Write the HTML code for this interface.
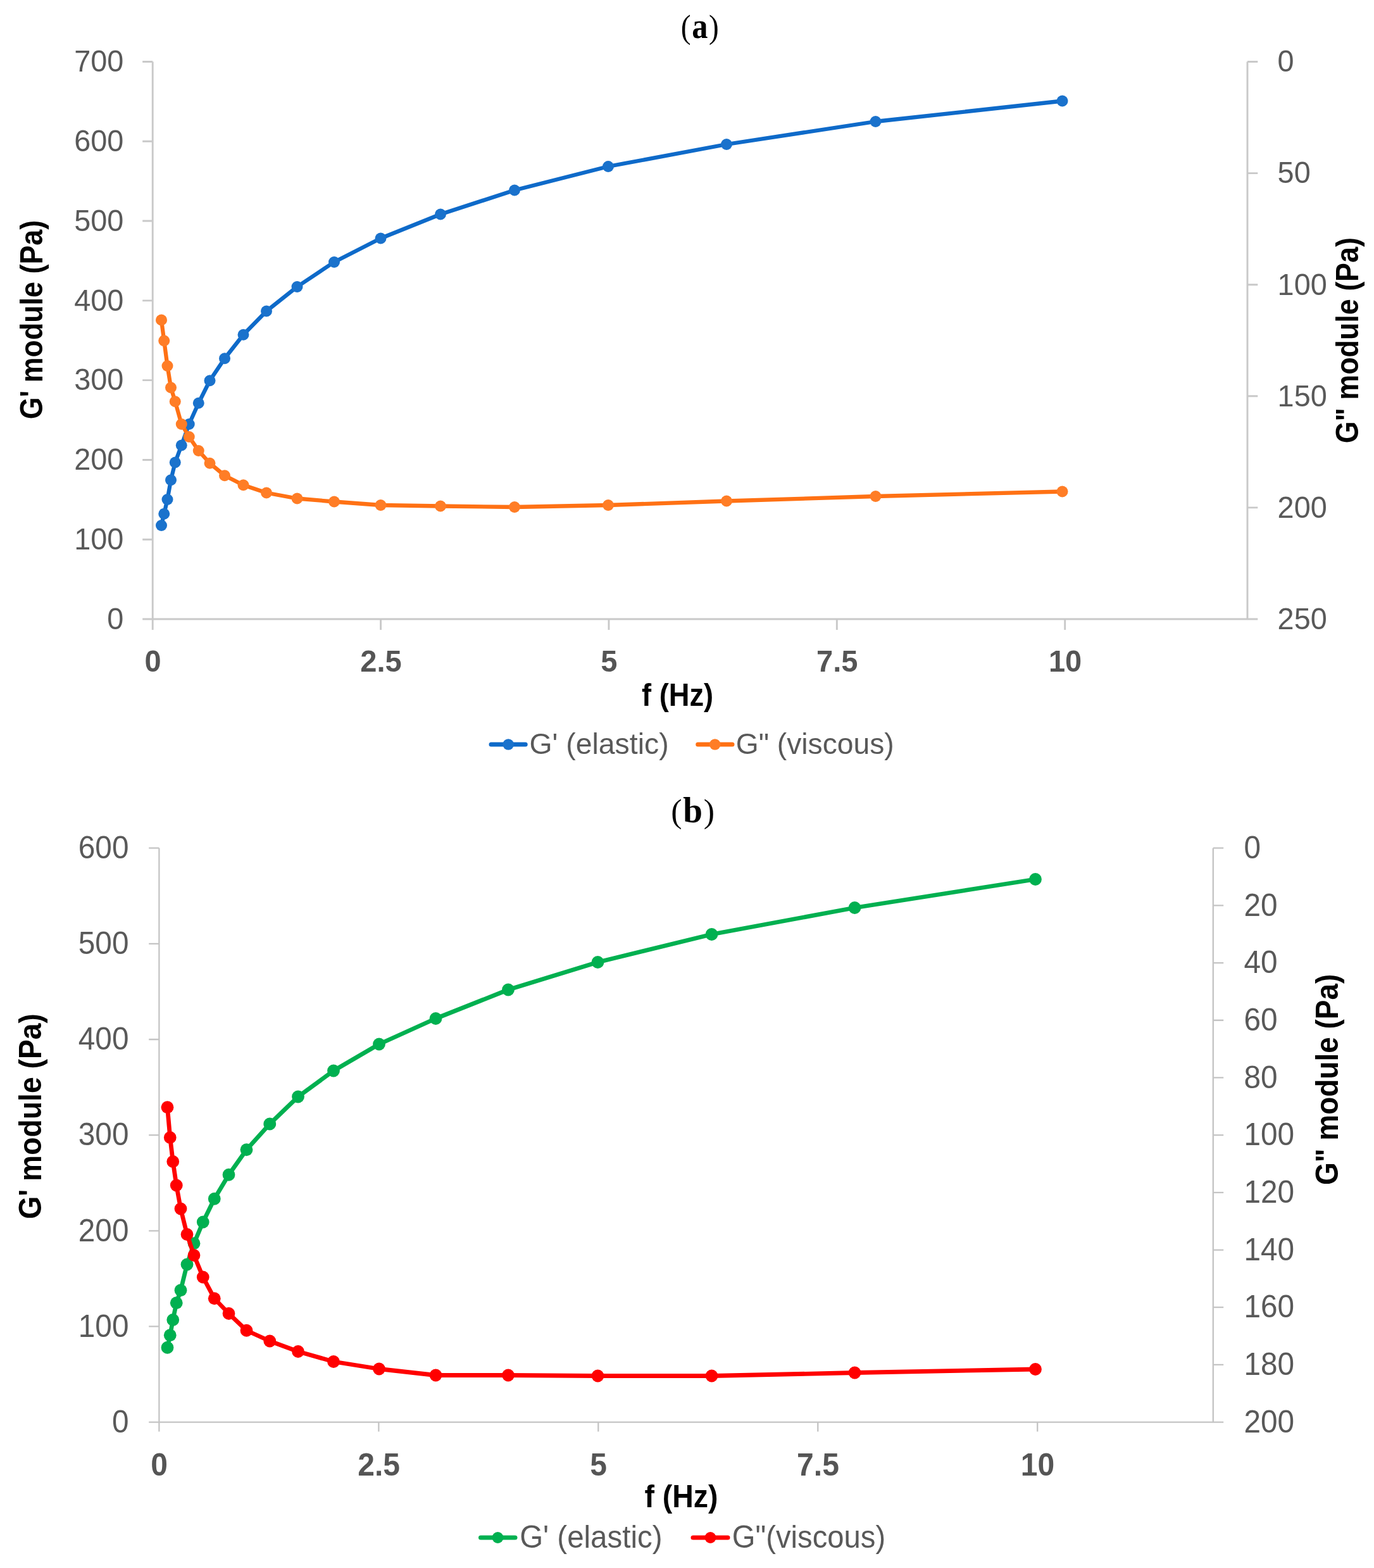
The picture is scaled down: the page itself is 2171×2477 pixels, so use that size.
<!DOCTYPE html>
<html lang="en">
<head>
<meta charset="utf-8">
<title>G' and G'' modules vs frequency</title>
<style>
html,body{margin:0;padding:0;background:#fff;}
body{width:2171px;height:2477px;overflow:hidden;}
svg{display:block;font-family:"Liberation Sans",sans-serif;}
</style>
</head>
<body>
<svg width="2171" height="2477" viewBox="0 0 2171 2477">
<rect width="2171" height="2477" fill="#fff"/>
<g id="chart-a">
<path d="M241.2 97.5V978M1971 97.5V978M225.2 978H1987.3M225.2 97.5H241.2M225.2 223.29H241.2M225.2 349.07H241.2M225.2 474.86H241.2M225.2 600.64H241.2M225.2 726.43H241.2M225.2 852.21H241.2M225.2 978H241.2M1971 97.5H1987.3M1971 273.6H1987.3M1971 449.7H1987.3M1971 625.8H1987.3M1971 801.9H1987.3M1971 978H1987.3M241.2 978V995M601.58 978V995M961.95 978V995M1322.33 978V995M1682.7 978V995" fill="none" stroke="#C9C9C9" stroke-width="2.9"/>
<g fill="#595959">
<text transform="translate(195.3 113.3) scale(0.98 1)" font-size="47.8" text-anchor="end">700</text>
<text transform="translate(195.3 239.09) scale(0.98 1)" font-size="47.8" text-anchor="end">600</text>
<text transform="translate(195.3 364.87) scale(0.98 1)" font-size="47.8" text-anchor="end">500</text>
<text transform="translate(195.3 490.66) scale(0.98 1)" font-size="47.8" text-anchor="end">400</text>
<text transform="translate(195.3 616.44) scale(0.98 1)" font-size="47.8" text-anchor="end">300</text>
<text transform="translate(195.3 742.23) scale(0.98 1)" font-size="47.8" text-anchor="end">200</text>
<text transform="translate(195.3 868.01) scale(0.98 1)" font-size="47.8" text-anchor="end">100</text>
<text transform="translate(195.3 993.8) scale(0.98 1)" font-size="47.8" text-anchor="end">0</text>
<text transform="translate(2018.6 113.3) scale(0.98 1)" font-size="47.8">0</text>
<text transform="translate(2018.6 289.4) scale(0.98 1)" font-size="47.8">50</text>
<text transform="translate(2018.6 465.5) scale(0.98 1)" font-size="47.8">100</text>
<text transform="translate(2018.6 641.6) scale(0.98 1)" font-size="47.8">150</text>
<text transform="translate(2018.6 817.7) scale(0.98 1)" font-size="47.8">200</text>
<text transform="translate(2018.6 993.8) scale(0.98 1)" font-size="47.8">250</text>
</g>
<g fill="#555555" font-weight="bold">
<text transform="translate(241.6 1061) scale(0.96 1)" font-size="49" text-anchor="middle">0</text>
<text transform="translate(601.98 1061) scale(0.96 1)" font-size="49" text-anchor="middle">2.5</text>
<text transform="translate(962.35 1061) scale(0.96 1)" font-size="49" text-anchor="middle">5</text>
<text transform="translate(1322.73 1061) scale(0.96 1)" font-size="49" text-anchor="middle">7.5</text>
<text transform="translate(1683.1 1061) scale(0.96 1)" font-size="49" text-anchor="middle">10</text>
</g>
<g font-weight="bold" fill="#000">
<text transform="translate(1070.6 1115) scale(0.905 1)" font-size="50" text-anchor="middle">f (Hz)</text>
<text transform="translate(67.1 505.1) rotate(-90) scale(0.913 1)" font-size="49.1" text-anchor="middle">G' module (Pa)</text>
<text transform="translate(2146 537.7) rotate(-90) scale(0.906 1)" font-size="49.5" text-anchor="middle">G&quot; module (Pa)</text>
</g>
<text transform="translate(1105.75 60) scale(0.9 1)" font-size="56" text-anchor="middle" fill="#000" font-family="'Liberation Serif', serif"><tspan font-size="52.64">(</tspan><tspan font-weight="bold" dx="1.8">a</tspan><tspan font-size="52.64" dx="1.8">)</tspan></text>
<polyline points="255,830 259.25,811.75 264.5,789 270,758.25 276.75,730.5 286.75,703.5 298.75,670 313.75,636.75 331.5,601.25 355,566.25 384.5,528.75 421,491.5 469.5,453 528,414 601.5,376.5 696,338.5 813,300.5 961,263 1148,228 1383.5,192 1678.5,159.5" fill="none" stroke="#0E6AC9" stroke-width="6.3" stroke-linejoin="round" stroke-linecap="round"/>
<g fill="#1A72CC"><circle cx="255" cy="830" r="9"/><circle cx="259.25" cy="811.75" r="9"/><circle cx="264.5" cy="789" r="9"/><circle cx="270" cy="758.25" r="9"/><circle cx="276.75" cy="730.5" r="9"/><circle cx="286.75" cy="703.5" r="9"/><circle cx="298.75" cy="670" r="9"/><circle cx="313.75" cy="636.75" r="9"/><circle cx="331.5" cy="601.25" r="9"/><circle cx="355" cy="566.25" r="9"/><circle cx="384.5" cy="528.75" r="9"/><circle cx="421" cy="491.5" r="9"/><circle cx="469.5" cy="453" r="9"/><circle cx="528" cy="414" r="9"/><circle cx="601.5" cy="376.5" r="9"/><circle cx="696" cy="338.5" r="9"/><circle cx="813" cy="300.5" r="9"/><circle cx="961" cy="263" r="9"/><circle cx="1148" cy="228" r="9"/><circle cx="1383.5" cy="192" r="9"/><circle cx="1678.5" cy="159.5" r="9"/></g>
<polyline points="255,505.5 259.25,538.25 264.5,578 270,612.25 276.75,634.25 286.75,670 298.75,690 313.75,712 331.5,731.75 355,751.25 384.5,766.25 421,778.5 469.5,787.5 528,792.5 601.5,798 696,799.5 813,801 961,798 1148,791.5 1383.5,784 1678.5,776.5" fill="none" stroke="#FF7114" stroke-width="6.3" stroke-linejoin="round" stroke-linecap="round"/>
<g fill="#FF7D26"><circle cx="255" cy="505.5" r="9"/><circle cx="259.25" cy="538.25" r="9"/><circle cx="264.5" cy="578" r="9"/><circle cx="270" cy="612.25" r="9"/><circle cx="276.75" cy="634.25" r="9"/><circle cx="286.75" cy="670" r="9"/><circle cx="298.75" cy="690" r="9"/><circle cx="313.75" cy="712" r="9"/><circle cx="331.5" cy="731.75" r="9"/><circle cx="355" cy="751.25" r="9"/><circle cx="384.5" cy="766.25" r="9"/><circle cx="421" cy="778.5" r="9"/><circle cx="469.5" cy="787.5" r="9"/><circle cx="528" cy="792.5" r="9"/><circle cx="601.5" cy="798" r="9"/><circle cx="696" cy="799.5" r="9"/><circle cx="813" cy="801" r="9"/><circle cx="961" cy="798" r="9"/><circle cx="1148" cy="791.5" r="9"/><circle cx="1383.5" cy="784" r="9"/><circle cx="1678.5" cy="776.5" r="9"/></g>
<line x1="776" x2="830.2" y1="1176" y2="1176" stroke="#0E6AC9" stroke-width="7" stroke-linecap="round"/>
<circle cx="803.2" cy="1176" r="8.8" fill="#1A72CC"/>
<text transform="translate(836.4 1191)" font-size="46.4" fill="#595959">G' (elastic)</text>
<line x1="1102.7" x2="1157" y1="1176" y2="1176" stroke="#FF7114" stroke-width="7" stroke-linecap="round"/>
<circle cx="1129.7" cy="1176" r="8.8" fill="#FF7D26"/>
<text transform="translate(1162.7 1191)" font-size="46.2" fill="#595959">G&quot; (viscous)</text>
</g>
<g id="chart-b">
<path d="M251.4 1339.7V2246.6M1916.8 1339.7V2246.6M235.2 2246.6H1933.2M235.2 1339.7H251.4M235.2 1490.85H251.4M235.2 1642H251.4M235.2 1793.15H251.4M235.2 1944.3H251.4M235.2 2095.45H251.4M235.2 2246.6H251.4M1916.8 1339.7H1933.2M1916.8 1430.39H1933.2M1916.8 1521.08H1933.2M1916.8 1611.77H1933.2M1916.8 1702.46H1933.2M1916.8 1793.15H1933.2M1916.8 1883.84H1933.2M1916.8 1974.53H1933.2M1916.8 2065.22H1933.2M1916.8 2155.91H1933.2M1916.8 2246.6H1933.2M251.4 2246.6V2261.4M598.36 2246.6V2261.4M945.32 2246.6V2261.4M1292.28 2246.6V2261.4M1639.23 2246.6V2261.4" fill="none" stroke="#C4C4C4" stroke-width="2.3"/>
<g fill="#595959">
<text transform="translate(203.45 1355.9) scale(0.955 1)" font-size="50" text-anchor="end">600</text>
<text transform="translate(203.45 1507.05) scale(0.955 1)" font-size="50" text-anchor="end">500</text>
<text transform="translate(203.45 1658.2) scale(0.955 1)" font-size="50" text-anchor="end">400</text>
<text transform="translate(203.45 1809.35) scale(0.955 1)" font-size="50" text-anchor="end">300</text>
<text transform="translate(203.45 1960.5) scale(0.955 1)" font-size="50" text-anchor="end">200</text>
<text transform="translate(203.45 2111.65) scale(0.955 1)" font-size="50" text-anchor="end">100</text>
<text transform="translate(203.45 2262.8) scale(0.955 1)" font-size="50" text-anchor="end">0</text>
<text transform="translate(1965.45 1355.9) scale(0.955 1)" font-size="50">0</text>
<text transform="translate(1965.45 1446.59) scale(0.955 1)" font-size="50">20</text>
<text transform="translate(1965.45 1537.28) scale(0.955 1)" font-size="50">40</text>
<text transform="translate(1965.45 1627.97) scale(0.955 1)" font-size="50">60</text>
<text transform="translate(1965.45 1718.66) scale(0.955 1)" font-size="50">80</text>
<text transform="translate(1965.45 1809.35) scale(0.955 1)" font-size="50">100</text>
<text transform="translate(1965.45 1900.04) scale(0.955 1)" font-size="50">120</text>
<text transform="translate(1965.45 1990.73) scale(0.955 1)" font-size="50">140</text>
<text transform="translate(1965.45 2081.42) scale(0.955 1)" font-size="50">160</text>
<text transform="translate(1965.45 2172.11) scale(0.955 1)" font-size="50">180</text>
<text transform="translate(1965.45 2262.8) scale(0.955 1)" font-size="50">200</text>
</g>
<g fill="#555555" font-weight="bold">
<text transform="translate(251.6 2331) scale(0.955 1)" font-size="50.3" text-anchor="middle">0</text>
<text transform="translate(598.56 2331) scale(0.955 1)" font-size="50.3" text-anchor="middle">2.5</text>
<text transform="translate(945.52 2331) scale(0.955 1)" font-size="50.3" text-anchor="middle">5</text>
<text transform="translate(1292.48 2331) scale(0.955 1)" font-size="50.3" text-anchor="middle">7.5</text>
<text transform="translate(1639.43 2331) scale(0.955 1)" font-size="50.3" text-anchor="middle">10</text>
</g>
<g font-weight="bold" fill="#000">
<text transform="translate(1076.5 2381.2) scale(0.929 1)" font-size="50" text-anchor="middle">f (Hz)</text>
<text transform="translate(65.1 1763.4) rotate(-90) scale(0.93 1)" font-size="49.8" text-anchor="middle">G' module (Pa)</text>
<text transform="translate(2114 1705.3) rotate(-90) scale(0.927 1)" font-size="49.6" text-anchor="middle">G&quot; module (Pa)</text>
</g>
<text transform="translate(1094.7 1298.75) scale(0.97 1)" font-size="57" text-anchor="middle" fill="#000" font-family="'Liberation Serif', serif"><tspan font-size="53.58">(</tspan><tspan font-weight="bold" dx="1.8">b</tspan><tspan font-size="53.58" dx="1.8">)</tspan></text>
<polyline points="264.5,2128.75 268.75,2109.25 273.25,2085 278.75,2058.25 285.5,2038.25 295.5,1997.5 306.5,1964.25 320.75,1930.5 338.75,1893.75 361.5,1855.75 389.5,1816.25 426.25,1775.5 471,1732.5 527,1691.5 599,1649.5 688.5,1609 803,1563.5 944.5,1520 1124.5,1476 1350.5,1434 1636,1389" fill="none" stroke="#00B050" stroke-width="6.8" stroke-linejoin="round" stroke-linecap="round"/>
<g fill="#00B050"><circle cx="264.5" cy="2128.75" r="9.9"/><circle cx="268.75" cy="2109.25" r="9.9"/><circle cx="273.25" cy="2085" r="9.9"/><circle cx="278.75" cy="2058.25" r="9.9"/><circle cx="285.5" cy="2038.25" r="9.9"/><circle cx="295.5" cy="1997.5" r="9.9"/><circle cx="306.5" cy="1964.25" r="9.9"/><circle cx="320.75" cy="1930.5" r="9.9"/><circle cx="338.75" cy="1893.75" r="9.9"/><circle cx="361.5" cy="1855.75" r="9.9"/><circle cx="389.5" cy="1816.25" r="9.9"/><circle cx="426.25" cy="1775.5" r="9.9"/><circle cx="471" cy="1732.5" r="9.9"/><circle cx="527" cy="1691.5" r="9.9"/><circle cx="599" cy="1649.5" r="9.9"/><circle cx="688.5" cy="1609" r="9.9"/><circle cx="803" cy="1563.5" r="9.9"/><circle cx="944.5" cy="1520" r="9.9"/><circle cx="1124.5" cy="1476" r="9.9"/><circle cx="1350.5" cy="1434" r="9.9"/><circle cx="1636" cy="1389" r="9.9"/></g>
<polyline points="264.5,1749.25 268.75,1797 273.25,1835 278.75,1872.5 285.5,1909.5 295.5,1950 306.5,1983 320.75,2017.5 338.75,2051.25 361.5,2075 389.5,2101.75 426.25,2118.5 471,2135 527,2151 599,2162.5 688.5,2172.5 803,2172.5 944.5,2173.5 1124.5,2173.5 1350.5,2168.5 1636,2163" fill="none" stroke="#FF0000" stroke-width="6.8" stroke-linejoin="round" stroke-linecap="round"/>
<g fill="#FF0000"><circle cx="264.5" cy="1749.25" r="9.9"/><circle cx="268.75" cy="1797" r="9.9"/><circle cx="273.25" cy="1835" r="9.9"/><circle cx="278.75" cy="1872.5" r="9.9"/><circle cx="285.5" cy="1909.5" r="9.9"/><circle cx="295.5" cy="1950" r="9.9"/><circle cx="306.5" cy="1983" r="9.9"/><circle cx="320.75" cy="2017.5" r="9.9"/><circle cx="338.75" cy="2051.25" r="9.9"/><circle cx="361.5" cy="2075" r="9.9"/><circle cx="389.5" cy="2101.75" r="9.9"/><circle cx="426.25" cy="2118.5" r="9.9"/><circle cx="471" cy="2135" r="9.9"/><circle cx="527" cy="2151" r="9.9"/><circle cx="599" cy="2162.5" r="9.9"/><circle cx="688.5" cy="2172.5" r="9.9"/><circle cx="803" cy="2172.5" r="9.9"/><circle cx="944.5" cy="2173.5" r="9.9"/><circle cx="1124.5" cy="2173.5" r="9.9"/><circle cx="1350.5" cy="2168.5" r="9.9"/><circle cx="1636" cy="2163" r="9.9"/></g>
<line x1="759.6" x2="813.9" y1="2429" y2="2429" stroke="#00B050" stroke-width="7.2" stroke-linecap="round"/>
<circle cx="786.5" cy="2429" r="9" fill="#00B050"/>
<text transform="translate(821.2 2444.8) scale(0.965 1)" font-size="49.2" fill="#595959">G' (elastic)</text>
<line x1="1095.1" x2="1149.9" y1="2429" y2="2429" stroke="#FF0000" stroke-width="7.2" stroke-linecap="round"/>
<circle cx="1122.5" cy="2429" r="9" fill="#FF0000"/>
<text transform="translate(1156.7 2444.8) scale(0.96 1)" font-size="49.2" fill="#595959">G&quot;(viscous)</text>
</g>
</svg>
</body>
</html>
